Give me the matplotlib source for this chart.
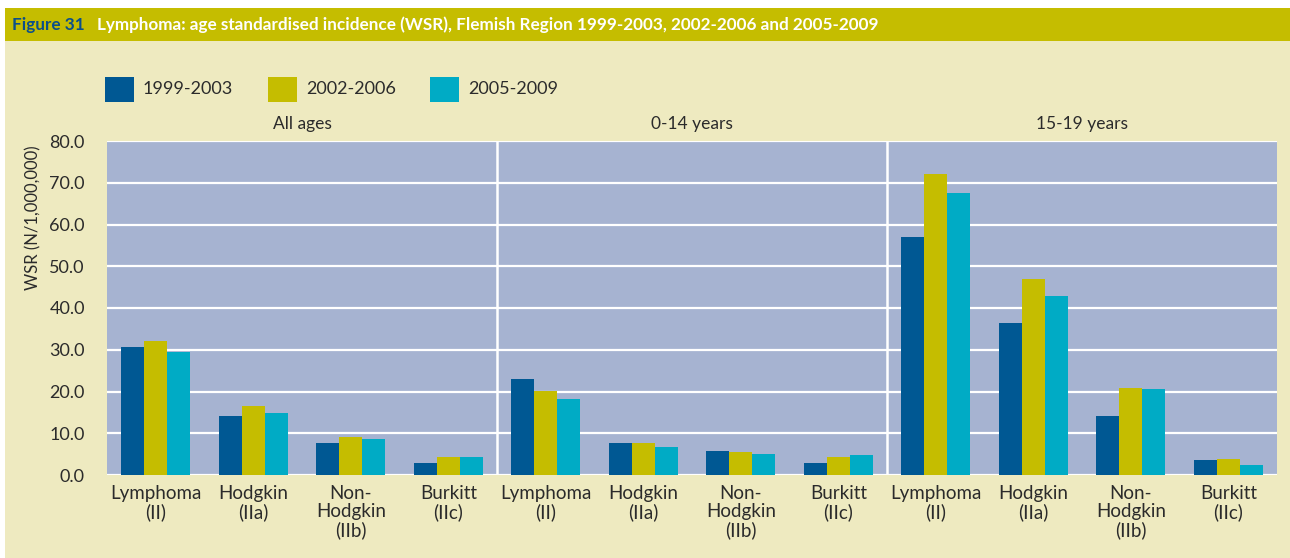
import numpy as np
import matplotlib.pyplot as plt
from matplotlib.patches import Rectangle

plt.rcParams['font.family'] = ['Lato', 'DejaVu Sans']

# ---------------------------------------------------------
# DATA (WSR per 1,000,000)
# ---------------------------------------------------------
periods = ['1999-2003', '2002-2006', '2005-2009']
age_groups = ['All ages', '0-14 years', '15-19 years']
categories = ['Lymphoma\n(II)', 'Hodgkin\n(IIa)', 'Non-\nHodgkin\n(IIb)', 'Burkitt\n(IIc)']

# 4 categories for each age group: all ages, 0-14, 15-19
wsr_1999_2003 = [30.6, 14.2, 7.7, 2.9, 22.9, 7.7, 5.8, 2.9, 57.0, 36.4, 14.2, 3.5]
wsr_2002_2006 = [32.0, 16.6, 9.0, 4.3, 20.2, 7.7, 5.6, 4.3, 72.2, 46.9, 20.9, 3.9]
wsr_2005_2009 = [29.4, 14.9, 8.7, 4.3, 18.1, 6.7, 5.1, 4.8, 67.5, 42.9, 20.7, 2.3]

yticks = [0, 10, 20, 30, 40, 50, 60, 70, 80]

colors = ['#005893', '#c5bd00', '#00abc5']
plot_bg = '#a6b3d1'
beige = '#eeeac0'
olive = '#c5bd00'
text_col = '#2b2b2b'

# ---------------------------------------------------------
# FIGURE
# ---------------------------------------------------------
W, H = 1290, 558
fig = plt.figure(figsize=(W / 100, H / 100), dpi=100, facecolor='white')

# page background + title band
fig.patches.append(Rectangle((5 / W, 0), 1, (H - 41) / H, transform=fig.transFigure,
                             facecolor=beige, edgecolor='none', zorder=-10))
fig.patches.append(Rectangle((5 / W, (H - 41) / H), 1, 33 / H, transform=fig.transFigure,
                             facecolor=olive, edgecolor='none', zorder=-10))
fig.text(12 / W, (H - 25) / H, 'Figure 31', color='#0b4f8a', fontsize=12.3,
         fontweight='bold', va='center', ha='left')
fig.text(97 / W, (H - 25) / H,
         'Lymphoma: age standardised incidence (WSR), Flemish Region 1999-2003, 2002-2006 and 2005-2009',
         color='white', fontsize=12.3, fontweight='bold', va='center', ha='left')

ax = fig.add_axes([107 / W, (H - 475) / H, (1277 - 107) / W, (475 - 141) / H])
ax.set_facecolor(plot_bg)

x = np.arange(len(wsr_1999_2003))
w = 0.236
for i, (vals, lab) in enumerate(zip([wsr_1999_2003, wsr_2002_2006, wsr_2005_2009], periods)):
    ax.bar(x + (i - 1) * w, vals, width=w, color=colors[i], label=lab, zorder=3)

ax.set_xlim(-0.5, len(x) - 0.5)
ax.set_ylim(0, 80)
ax.set_yticks(yticks)
ax.set_yticklabels([f'{v:.1f}' for v in yticks], fontsize=13, color=text_col)
ax.yaxis.grid(True, color='white', linewidth=1.6, zorder=1)
ax.set_axisbelow(True)
for xv in [3.5, 7.5]:
    ax.axvline(xv, color='white', linewidth=1.8, zorder=2)

ax.set_xticks(x)
ax.set_xticklabels(categories * 3, fontsize=13.5, color=text_col, linespacing=1.1)
ax.tick_params(length=0, pad=7)
ax.tick_params(axis='y', pad=16)
for s in ax.spines.values():
    s.set_visible(False)

# age group headers
for j, g in enumerate(age_groups):
    ax.text(j * 4 + 1.5, 82.2, g, ha='center', va='bottom', fontsize=12.5, color=text_col)

fig.text(33 / W, (H - 218) / H, 'WSR (N/1,000,000)', rotation=90, ha='center', va='center',
         fontsize=12, color=text_col)

# legend
leg_x = [105, 268, 430]
for xs, c, lab in zip(leg_x, colors, periods):
    fig.patches.append(Rectangle((xs / W, (H - 102) / H), 29 / W, 25 / H, transform=fig.transFigure,
                                 facecolor=c, edgecolor='none'))
    fig.text((xs + 38) / W, (H - 89) / H, lab, fontsize=13, color=text_col, va='center', ha='left')

fig.savefig('out.png', dpi=100, facecolor=fig.get_facecolor())
